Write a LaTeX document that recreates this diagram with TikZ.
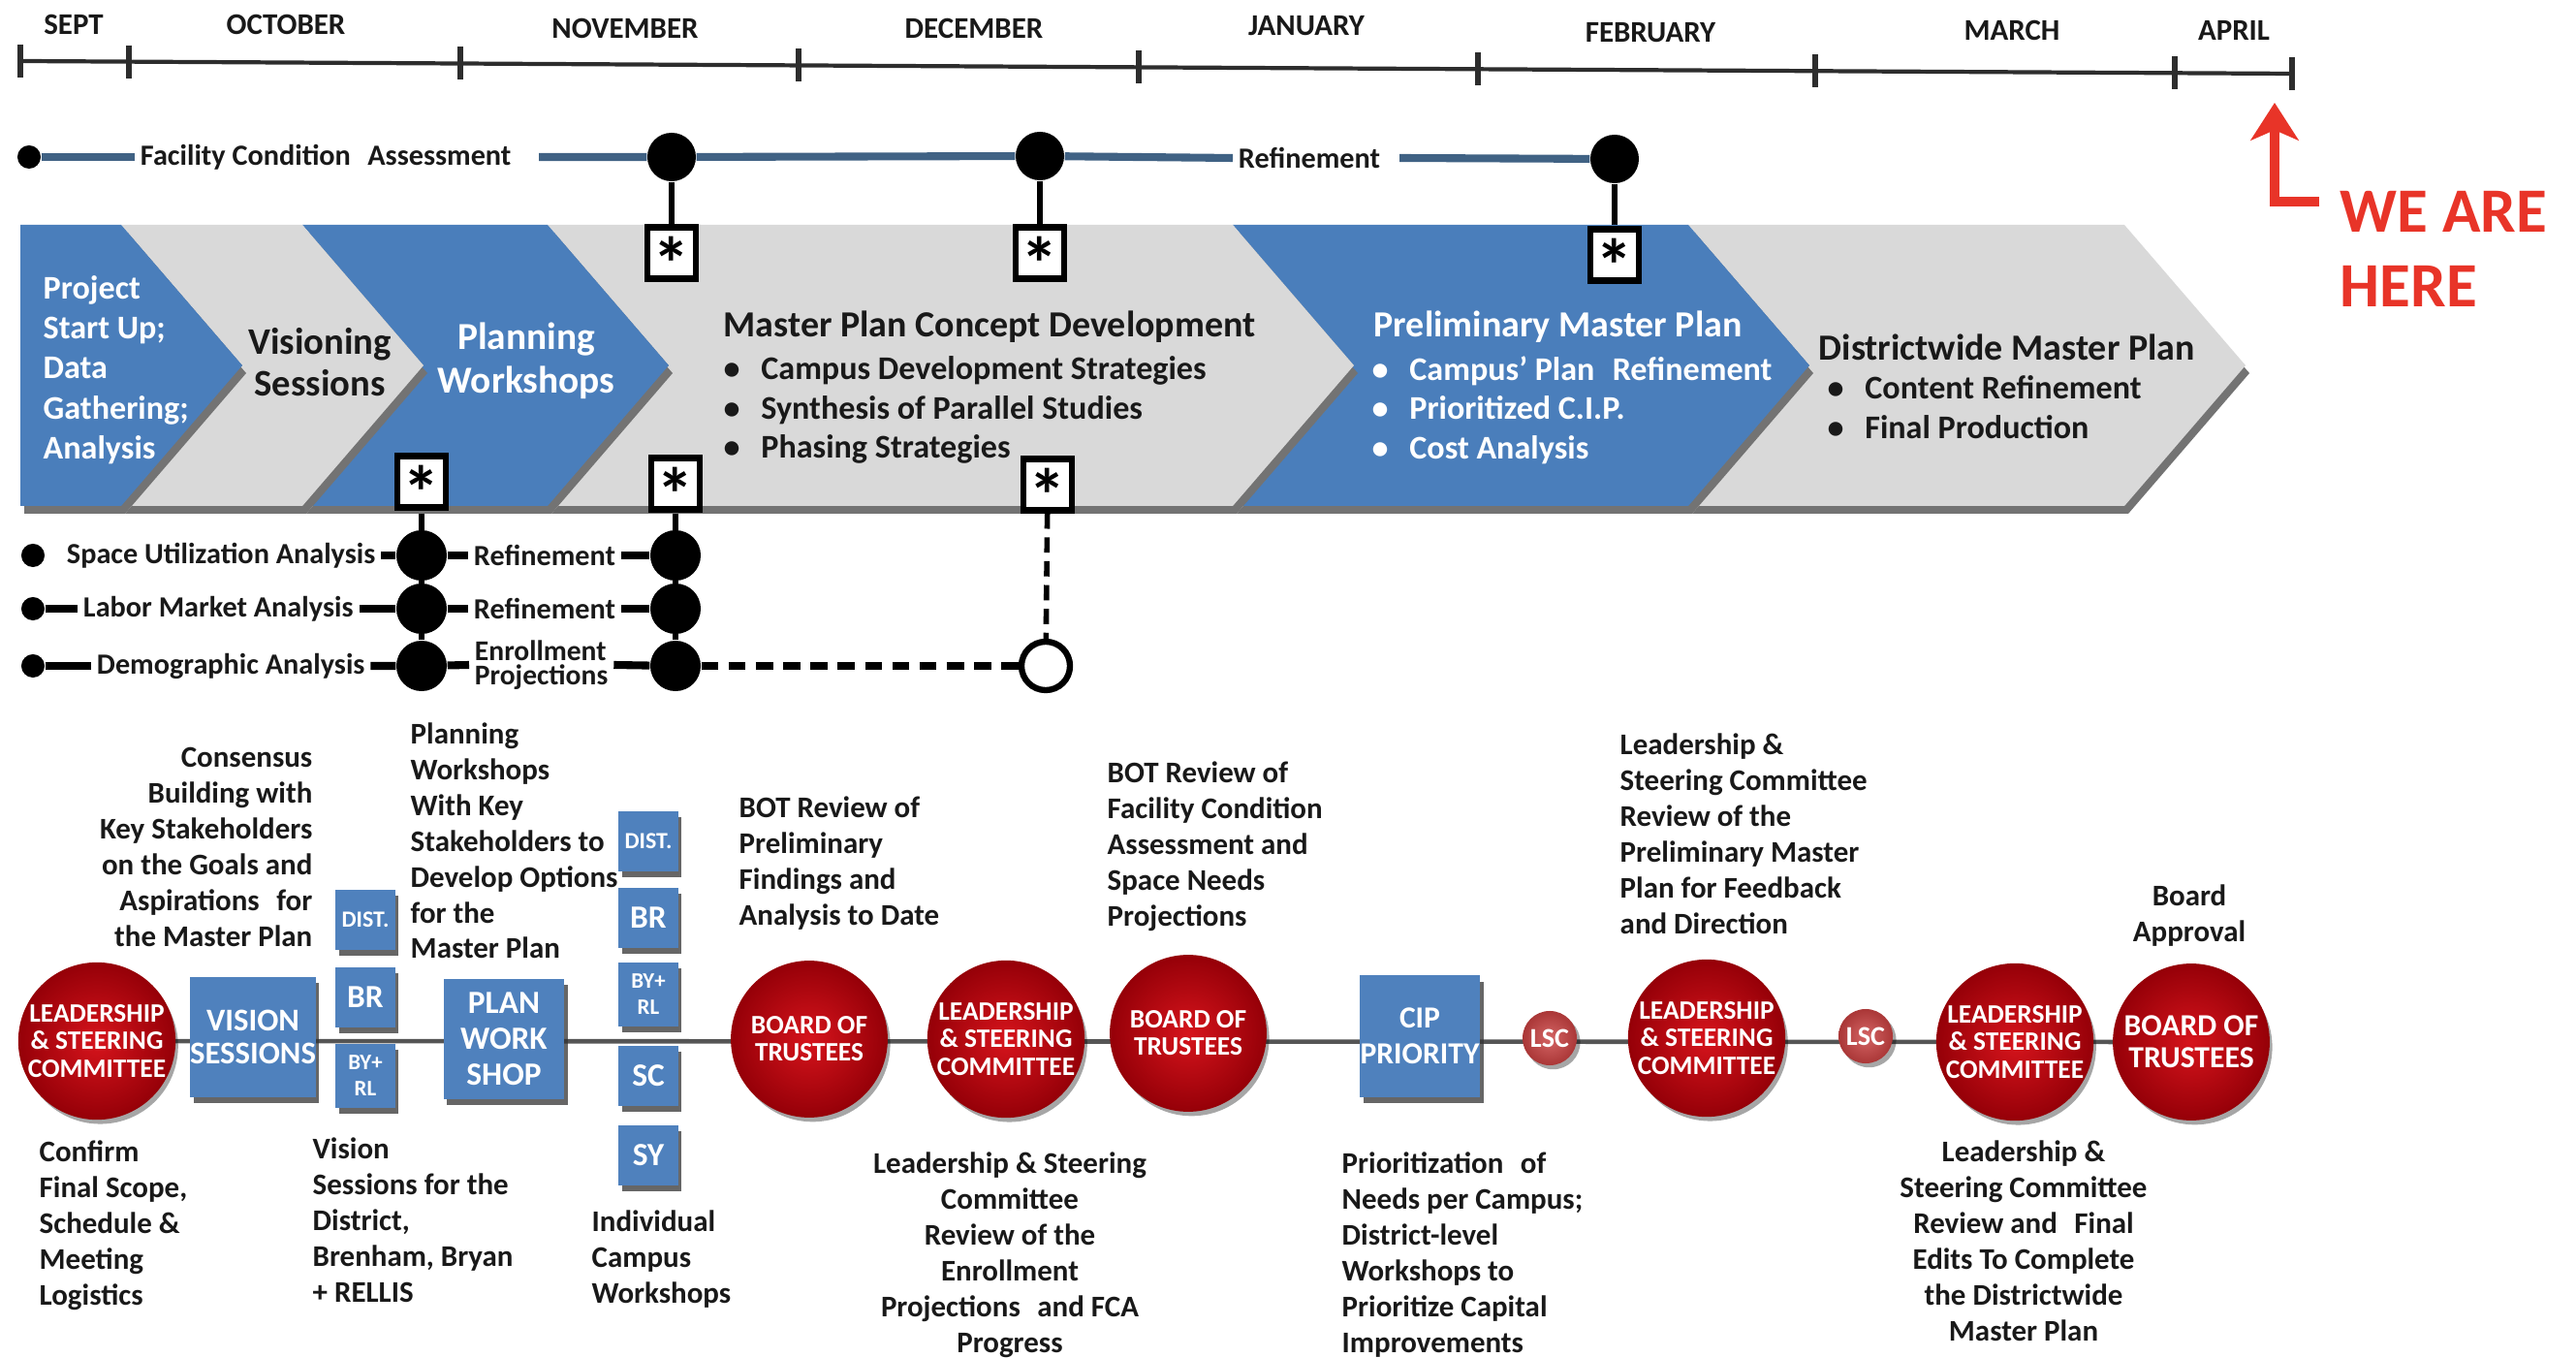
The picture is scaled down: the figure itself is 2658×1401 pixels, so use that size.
\documentclass[tikz,border=0pt]{standalone}
\usepackage{fontspec}
\setmainfont{Carlito}
\usetikzlibrary{arrows.meta,shadows,backgrounds}
\newcommand\myfs[2]{\fontsize{#1}{#2}\selectfont}
\newcommand\bul{\makebox[11pt][l]{•}}
\newcommand\astx{\raisebox{-0.5em}[0pt][0pt]{*}}
\definecolor{chevblue}{RGB}{74,126,187}
\definecolor{chevgrey}{RGB}{217,217,217}
\definecolor{boxblue}{RGB}{79,129,189}
\definecolor{fcablue}{RGB}{64,98,132}
\definecolor{txt}{RGB}{25,25,25}
\definecolor{redin}{RGB}{214,20,28}
\definecolor{redout}{RGB}{150,0,8}
\definecolor{lscin}{RGB}{212,100,100}
\definecolor{lscout}{RGB}{170,55,55}
\definecolor{herered}{RGB}{232,52,40}
\definecolor{tline}{RGB}{45,45,45}
\definecolor{bline}{RGB}{85,85,85}
\newcommand\chevR[2]{(#1,232) -- (#2,232) -- ++(125,145) -- (#2,522) -- (#1,522) -- ++(125,-145) -- cycle}
\newcommand\chevF[2]{(#1,232) -- (#2,232) -- ++(125,145) -- (#2,522) -- (#1,522) -- cycle}
\begin{document}
\begin{tikzpicture}[x=0.01cm,y=-0.01cm,
  every node/.style={inner sep=0pt},
  month/.style={font=\bfseries\myfs{8.8}{10}, text=txt},
  lbl/.style={font=\bfseries\myfs{8.6}{10}, text=txt, inner sep=1.5pt},
  bt/.style={font=\bfseries\myfs{8.8}{10.5}, text=txt},
  chevw/.style={text=white},
  chevk/.style={text=txt},
  astbox/.style={draw=black, line width=1.8pt, fill=white, minimum width=0.5cm, minimum height=0.53cm, font=\bfseries\myfs{22}{22}},
  bigdot/.style={circle, fill=black, minimum size=0.5cm},
  rowdot/.style={circle, fill=black, minimum size=0.52cm},
  smalldot/.style={circle, fill=black, minimum size=0.24cm},
  hollow/.style={circle, draw=black, line width=1.8pt, fill=white, minimum size=0.5cm},
  fcaline/.style={line width=2.3pt, draw=fcablue},
  rowline/.style={line width=2.3pt, draw=black},
  vline/.style={line width=1.5pt, draw=black},
  dashh/.style={line width=2.3pt, draw=black, dash pattern=on 5pt off 3pt},
  dashv/.style={line width=1.6pt, draw=black, dash pattern=on 4.5pt off 2.5pt},
  tick/.style={line width=1.6pt, draw=tline},
  chevshadow/.style={fill=black!55, shift={(4,8)}},
  bbox/.style={fill=boxblue, text=white, align=center, drop shadow={shadow xshift=1pt, shadow yshift=-1.8pt, opacity=0.75, fill=black!80}},
  sbox/.style={bbox, minimum width=0.61cm, minimum height=0.62cm},
  bigbox/.style={bbox, minimum width=1.24cm, minimum height=1.24cm},
  redc/.style={circle, inner color=redin, outer color=redout, draw=redout, line width=0.5pt, minimum size=1.6cm, text=white, align=center, font=\bfseries\myfs{7.8}{8}, drop shadow={shadow xshift=1pt, shadow yshift=-1.5pt, opacity=0.35, fill=black}},
  lscs/.style={circle, inner color=lscin, outer color=lscout, minimum size=0.56cm, text=white, font=\bfseries\myfs{8}{8}, drop shadow={shadow xshift=1pt, shadow yshift=-1.2pt, opacity=0.35, fill=black}}
]
\useasboundingbox (0,0) rectangle (2658,1401);

% ---------- top time line ----------
\coordinate (t0) at (21,63);
\coordinate (t1) at (133,63.6);
\coordinate (t2) at (475,65.5);
\coordinate (t3) at (824,67.5);
\coordinate (t4) at (1175,69.4);
\coordinate (t5) at (1525,71.3);
\coordinate (t6) at (1873,73.3);
\coordinate (t7) at (2244,75.3);
\coordinate (t8) at (2365,76);
\draw[tline, line width=1.2pt] (t0) -- (t8);
\foreach \c in {t0,t1,t2,t3,t4,t5,t6,t7,t8} \draw[tick] (\c) ++(0,-17) -- ++(0,34);

\node[month] (mSep) at (76,25) {SEPT};
\node[month] (mOct) at (295,25) {OCTOBER};
\node[month] (mNov) at (645,29) {NOVEMBER};
\node[month] (mDec) at (1005,29) {DECEMBER};
\node[month] (mJan) at (1348,27) {JANUARY};
\node[month] (mFeb) at (1703,34) {FEBRUARY};
\node[month] (mMar) at (2076,31) {MARCH};
\node[month] (mApr) at (2305,31) {APRIL};

% ---------- we are here ----------
\coordinate (wa0) at (2393,208);
\coordinate (wa1) at (2347,208);
\coordinate (wa2) at (2347,106);
\draw[herered, line width=3pt, line join=miter, -{Stealth[length=11pt,width=14pt,inset=3pt]}] (wa0) -- (wa1) -- (wa2);
\node[anchor=north west, align=left, text=herered, font=\bfseries\myfs{18.5}{21.9}] (here) at (2414,197) {WE ARE\\HERE};

% ---------- chevron band ----------
\fill[chevshadow] \chevR{1742}{2192};
\fill[chevgrey] \chevR{1742}{2192};
\fill[chevshadow] \chevR{1272}{1742};
\fill[chevblue] \chevR{1272}{1742};
\fill[chevshadow] \chevR{565}{1272};
\fill[chevgrey] \chevR{565}{1272};
\fill[chevshadow] \chevR{312}{565};
\fill[chevblue] \chevR{312}{565};
\fill[chevshadow] \chevR{125}{312};
\fill[chevgrey] \chevR{125}{312};
\fill[chevshadow] \chevF{21}{125};
\fill[chevblue] \chevF{21}{125};

\node[chevw, anchor=north west, align=left, font=\bfseries\myfs{9.7}{11.7}] (c1t) at (44,284) {Project\\Start Up;\\Data\\Gathering;\\Analysis};
\node[chevk, anchor=north, align=center, font=\bfseries\myfs{11}{12}] (c2t) at (330,338) {Visioning\\Sessions};
\node[chevw, anchor=north, align=center, font=\bfseries\myfs{11.2}{12.8}] (c3t) at (543,332) {Planning\\Workshops};
\node[chevk, anchor=west, font=\bfseries\myfs{10.8}{12}] (c4h) at (746,337) {Master Plan Concept Development};
\node[chevk, anchor=north west, align=left, font=\bfseries\myfs{9.7}{11.5}] (c4b) at (746,367) {\bul Campus Development Strategies\\\bul Synthesis of Parallel Studies\\\bul Phasing Strategies};
\node[chevw, anchor=west, font=\bfseries\myfs{10.8}{12}] (c5h) at (1417,337) {Preliminary Master Plan};
\node[chevw, anchor=north west, align=left, font=\bfseries\myfs{9.7}{11.5}] (c5b) at (1415,367) {\bul Campus’ Plan\hspace{3pt} Refinement\\\bul Prioritized C.I.P.\\\bul Cost Analysis};
\node[chevk, anchor=west, font=\bfseries\myfs{10.8}{12}] (c6h) at (1876,358) {Districtwide Master Plan};
\node[chevk, anchor=north west, align=left, font=\bfseries\myfs{9.7}{11.5}] (c6b) at (1885,387) {\bul Content Refinement\\\bul Final Production};

% ---------- facility condition assessment row ----------
\node[smalldot] (fd0) at (30,162) {};
\node[lbl, anchor=west] (fca) at (139,162) {Facility Condition\hspace{3pt} Assessment};
\coordinate (fl1) at (556,162);
\node[bigdot] (fd1) at (693,162) {};
\node[bigdot] (fd2) at (1073,161) {};
\node[lbl, anchor=west] (fref) at (1272,163) {Refinement};
\node[bigdot] (fd3) at (1666,164) {};
\node[astbox] (at1) at (693,261) {\astx};
\node[astbox] (at2) at (1073,261) {\astx};
\node[astbox] (at3) at (1666,263) {\astx};

% ---------- lower asterisks and parallel studies ----------
\node[astbox] (ab1) at (435,497) {\astx};
\node[astbox] (ab2) at (697,499) {\astx};
\node[astbox] (ab3) at (1081,500) {\astx};

\node[smalldot] (s1) at (34,573) {};
\node[lbl, anchor=west] (sua) at (63,573) {Space Utilization Analysis};
\node[rowdot] (dA1) at (435,573) {};
\node[lbl, anchor=west] (r1) at (483,573) {Refinement};
\node[rowdot] (dB1) at (697,573) {};

\node[smalldot] (s2) at (34,628) {};
\node[lbl, anchor=west] (lma) at (80,628) {Labor Market Analysis};
\node[rowdot] (dA2) at (435,628) {};
\node[lbl, anchor=west] (r2) at (483,628) {Refinement};
\node[rowdot] (dB2) at (697,628) {};

\node[smalldot] (s3) at (34,687) {};
\node[lbl, anchor=west] (dem) at (94,687) {Demographic Analysis};
\node[rowdot] (dA3) at (435,687) {};
\node[lbl, anchor=west, align=left, font=\bfseries\myfs{8.4}{7.2}] (enr) at (484,686) {Enrollment\\Projections};
\node[rowdot] (dB3) at (697,687) {};
\node[hollow] (hc) at (1079,687) {};

% ---------- lower milestone line ----------
\node[redc] (lsc1) at (100,1074) {LEADERSHIP\\\& STEERING\\COMMITTEE};
\node[bigbox, font=\bfseries\myfs{9.3}{9.5}] (vis) at (261,1070) {VISION\\SESSIONS};
\node[sbox, font=\bfseries\myfs{6.8}{7}] (vd) at (377,949) {DIST.};
\node[sbox, font=\bfseries\myfs{9.5}{10}] (vbr) at (377,1029) {BR};
\node[sbox, minimum height=0.66cm, font=\bfseries\myfs{6.5}{7.7}] (vby) at (377,1110) {BY+\\RL};
\node[bigbox, font=\bfseries\myfs{9.5}{10.5}] (pws) at (520,1072) {PLAN\\WORK\\SHOP};
\node[sbox, font=\bfseries\myfs{6.8}{7}] (wd) at (669,868) {DIST.};
\node[sbox, font=\bfseries\myfs{9.5}{10}] (wbr) at (669,947) {BR};
\node[sbox, minimum height=0.66cm, font=\bfseries\myfs{6.5}{7.7}] (wby) at (669,1026) {BY+\\RL};
\node[sbox, font=\bfseries\myfs{9.5}{10}] (wsc) at (669,1110) {SC};
\node[sbox, font=\bfseries\myfs{9.5}{10}] (wsy) at (669,1192) {SY};
\node[redc] (bot1) at (835,1072) {BOARD OF\\TRUSTEES};
\node[redc, minimum size=1.54cm] (lsc2) at (1038,1072) {LEADERSHIP\\\& STEERING\\COMMITTEE};
\node[redc] (bot2) at (1226,1066) {BOARD OF\\TRUSTEES};
\node[bigbox, minimum height=1.25cm, font=\bfseries\myfs{9}{10.5}] (cip) at (1465,1069) {CIP\\PRIORITY};
\node[lscs] (ls1) at (1599,1071) {LSC};
\node[redc] (lsc3) at (1761,1071) {LEADERSHIP\\\& STEERING\\COMMITTEE};
\node[lscs] (ls2) at (1925,1069) {LSC};
\node[redc] (lsc4) at (2079,1075) {LEADERSHIP\\\& STEERING\\COMMITTEE};
\node[redc, font=\bfseries\myfs{9}{9.5}] (bot3) at (2261,1075) {BOARD OF\\TRUSTEES};

% ---------- descriptions ----------
\node[bt, anchor=north east, align=right] (tCons) at (323,771) {Consensus\\Building with\\Key Stakeholders\\on the Goals and\\Aspirations\hspace{3pt} for\\the Master Plan};
\node[bt, anchor=north west, align=left] (tPlan) at (423,745) {Planning\\Workshops\\With Key\\Stakeholders to\\Develop Options\\for the\\Master Plan};
\node[bt, anchor=north west, align=left] (tConf) at (40,1176) {Confirm\\Final Scope,\\Schedule \&\\Meeting\\Logistics};
\node[bt, anchor=north west, align=left] (tVis) at (322,1173) {Vision\\Sessions for the\\District,\\Brenham, Bryan\\+ RELLIS};
\node[bt, anchor=north west, align=left] (tInd) at (610,1248) {Individual\\Campus\\Workshops};
\node[bt, anchor=north west, align=left] (tBot1) at (762,821) {BOT Review of\\Preliminary\\Findings and\\Analysis to Date};
\node[bt, anchor=north, align=center] (tLsc2) at (1042,1188) {Leadership \& Steering\\Committee\\Review of the\\Enrollment\\Projections\hspace{3pt} and FCA\\Progress};
\node[bt, anchor=north west, align=left] (tBot2) at (1142,785) {BOT Review of\\Facility Condition\\Assessment and\\Space Needs\\Projections};
\node[bt, anchor=north west, align=left] (tCip) at (1384,1188) {Prioritization\hspace{3pt} of\\Needs per Campus;\\District-level\\Workshops to\\Prioritize Capital\\Improvements};
\node[bt, anchor=north west, align=left] (tLsc3) at (1671,756) {Leadership \&\\Steering Committee\\Review of the\\Preliminary Master\\Plan for Feedback\\and Direction};
\node[bt, anchor=north, align=center] (tBoard) at (2259,912) {Board\\Approval};
\node[bt, anchor=north, align=center] (tLsc4) at (2088,1176) {Leadership \&\\Steering Committee\\Review and\hspace{3pt} Final\\Edits To Complete\\the Districtwide\\Master Plan};

% ---------- connectors (behind nodes) ----------
\begin{scope}[on background layer]
\fill[white] (0,0) rectangle (2658,1401);
\draw[fcaline] (fd0) -- (fca.west);
\draw[fcaline] (fl1) -- (fd1) -- (fd2) -- (fref.west);
\draw[fcaline] ([xshift=4pt]fref.east) -- (fd3);
\draw[vline] (fd1) -- (at1);
\draw[vline] (fd2) -- (at2);
\draw[vline] (fd3) -- (at3);
\draw[rowline] (s2) -- (lma.west);
\draw[rowline] (s3) -- (dem.west);
\draw[rowline] (sua.east) -- (dA1) -- (r1.west);
\draw[rowline] (r1.east) -- (dB1);
\draw[rowline] (lma.east) -- (dA2) -- (r2.west);
\draw[rowline] (r2.east) -- (dB2);
\draw[rowline] (dem.east) -- (dA3) -- (enr.west);
\draw[rowline] (enr.east) -- (dB3);
\draw[vline] (ab1) -- (dA3);
\draw[vline] (ab2) -- (dB3);
\draw[dashv] (ab3) -- (hc);
\draw[dashh] (dB3) -- (hc);
\draw[bline, line width=1.3pt] (lsc1) -- (bot3);
\end{scope}
\end{tikzpicture}
\end{document}
